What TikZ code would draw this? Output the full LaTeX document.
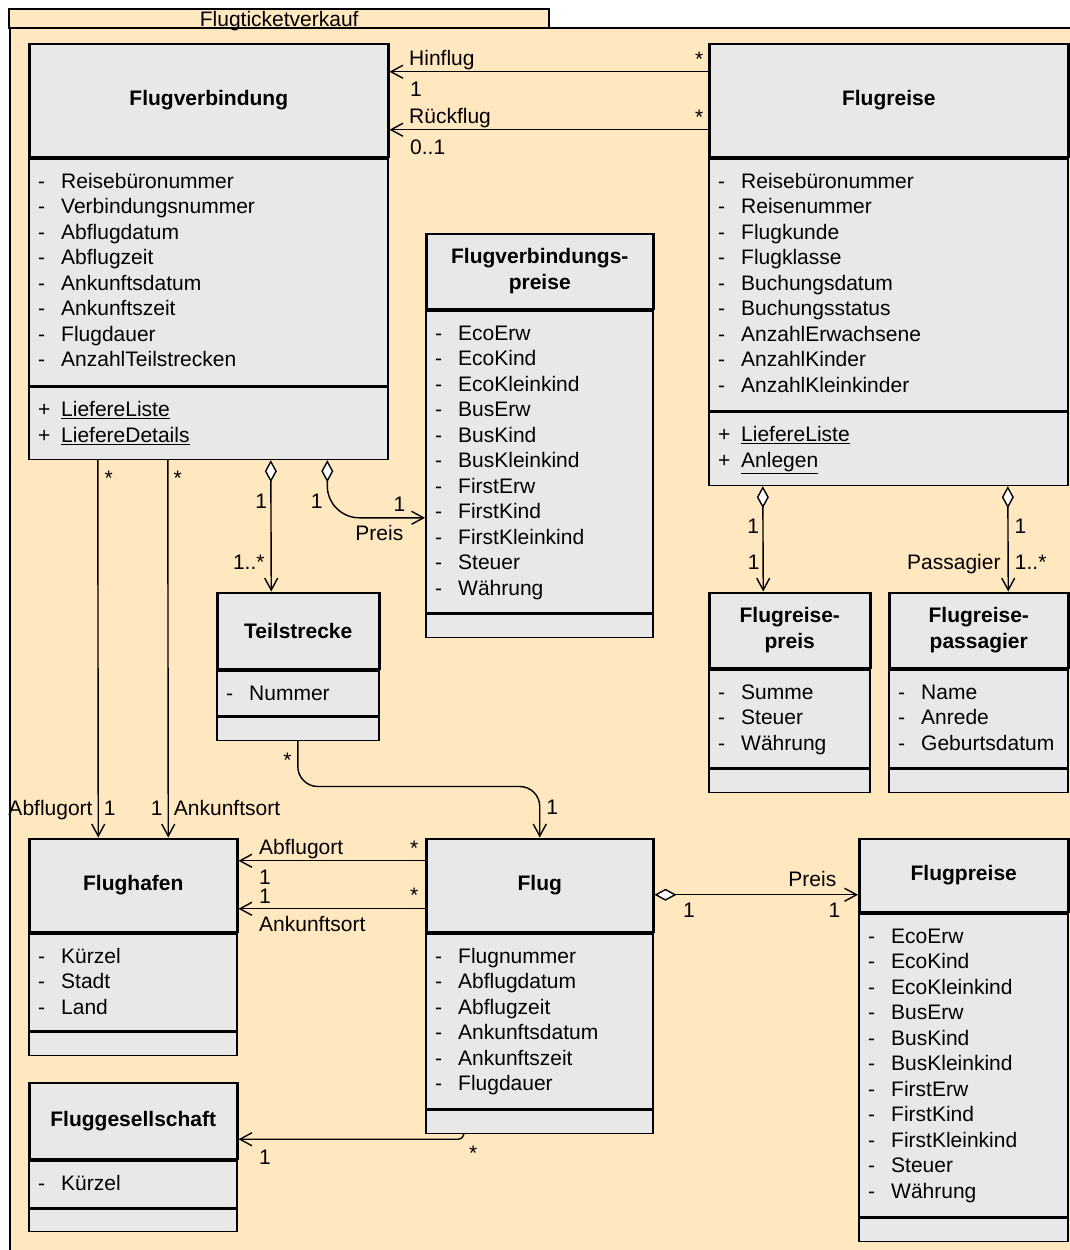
\documentclass[tikz,border=0pt]{standalone}
\usepackage{fontspec}
\setmainfont{Liberation Sans}
\usetikzlibrary{arrows.meta}
\definecolor{pkgfill}{HTML}{FFE7BF}
\definecolor{umlgray}{HTML}{E8E8E8}
\newcommand{\umlfont}{\fontsize{21pt}{25.5pt}\selectfont}
\newcommand{\att}[1]{\makebox[23pt][l]{-}#1\rule[-6pt]{0pt}{25.5pt}}
\newcommand{\opr}[1]{\makebox[23pt][l]{+}\underline{#1}\rule[-6pt]{0pt}{25.5pt}}
\begin{document}
\begin{tikzpicture}[x=1pt,y=-1pt]
        \tikzstyle{pkg}=[draw=black,line width=2.4pt,fill=pkgfill,anchor=north west,inner sep=0pt]
        \tikzstyle{head}=[draw=black,line width=2.5pt,fill=umlgray,font=\umlfont\bfseries,align=center,anchor=south west,inner sep=0pt]
        \tikzstyle{comp}=[draw=black,line width=1.6pt,fill=umlgray,anchor=north west,inner sep=0pt]
        \tikzstyle{txt}=[font=\umlfont,align=left,anchor=north west,inner sep=0pt]
        \tikzstyle{mult}=[font=\umlfont,inner sep=0pt]
        \tikzstyle{assoc}=[draw=black,line width=1.4pt,-{Straight Barb[length=12pt,width=13pt]}]
        \tikzstyle{aggr}=[assoc,{Diamond[length=22pt,width=12pt,fill=white]}-{Straight Barb[length=12pt,width=13pt]}]

        \useasboundingbox (0,0) rectangle (1070,1250);
        \clip (0,0) rectangle (1070,1250);

        % package
        \node[pkg,minimum width=1081pt,minimum height=1243pt] (pkg) at (9,27) {};
        \node[pkg,minimum width=540pt,minimum height=19pt,font=\umlfont,text height=17pt,text depth=2pt] (pkgTab) at (8,8) {Flugticketverkauf};

        % Flugverbindung
        \node[comp,minimum width=359pt,minimum height=227pt] (fvAttr) at (28,158) {};
        \node[comp,minimum width=359pt,minimum height=72pt] (fvOps) at (fvAttr.south west) {};
        \node[head,minimum width=359pt,minimum height=113pt] (fv) at (fvAttr.north west) {Flugverbindung};
        \node[txt] (fvAttrList) at ([xshift=10pt,yshift=-10.5pt]fvAttr.north west) {\att{Reisebüronummer}\\\att{Verbindungsnummer}\\\att{Abflugdatum}\\\att{Abflugzeit}\\\att{Ankunftsdatum}\\\att{Ankunftszeit}\\\att{Flugdauer}\\\att{AnzahlTeilstrecken}};
        \node[txt] (fvOpsList) at ([xshift=10pt,yshift=-10.5pt]fvOps.north west) {\opr{LiefereListe}\\\opr{LiefereDetails}};

        % Flugreise
        \node[comp,minimum width=359pt,minimum height=252pt] (frAttr) at (708,158) {};
        \node[comp,minimum width=359pt,minimum height=73pt] (frOps) at (frAttr.south west) {};
        \node[head,minimum width=359pt,minimum height=113pt] (fr) at (frAttr.north west) {Flugreise};
        \node[txt] (frAttrList) at ([xshift=10pt,yshift=-10.5pt]frAttr.north west) {\att{Reisebüronummer}\\\att{Reisenummer}\\\att{Flugkunde}\\\att{Flugklasse}\\\att{Buchungsdatum}\\\att{Buchungsstatus}\\\att{AnzahlErwachsene}\\\att{AnzahlKinder}\\\att{AnzahlKleinkinder}};
        \node[txt] (frOpsList) at ([xshift=10pt,yshift=-10.5pt]frOps.north west) {\opr{LiefereListe}\\\opr{Anlegen}};

        % Flugverbindungspreise
        \node[comp,minimum width=227pt,minimum height=302pt] (fvpAttr) at (425,310) {};
        \node[comp,minimum width=227pt,minimum height=23pt] (fvpOps) at (fvpAttr.south west) {};
        \node[head,minimum width=227pt,minimum height=75pt] (fvp) at (fvpAttr.north west) {Flugverbindungs-\\preise};
        \node[txt] (fvpAttrList) at ([xshift=10pt,yshift=-10.5pt]fvpAttr.north west) {\att{EcoErw}\\\att{EcoKind}\\\att{EcoKleinkind}\\\att{BusErw}\\\att{BusKind}\\\att{BusKleinkind}\\\att{FirstErw}\\\att{FirstKind}\\\att{FirstKleinkind}\\\att{Steuer}\\\att{Währung}};

        % Teilstrecke
        \node[comp,minimum width=162pt,minimum height=45pt] (tsAttr) at (216,670) {};
        \node[comp,minimum width=162pt,minimum height=23pt] (tsOps) at (tsAttr.south west) {};
        \node[head,minimum width=162pt,minimum height=76pt] (ts) at (tsAttr.north west) {Teilstrecke};
        \node[txt] (tsAttrList) at ([xshift=10pt,yshift=-10.5pt]tsAttr.north west) {\att{Nummer}};

        % Flugreisepreis
        \node[comp,minimum width=161pt,minimum height=98pt] (frpAttr) at (708,669) {};
        \node[comp,minimum width=161pt,minimum height=23pt] (frpOps) at (frpAttr.south west) {};
        \node[head,minimum width=161pt,minimum height=75pt] (frp) at (frpAttr.north west) {Flugreise-\\preis};
        \node[txt] (frpAttrList) at ([xshift=10pt,yshift=-10.5pt]frpAttr.north west) {\att{Summe}\\\att{Steuer}\\\att{Währung}};

        % Flugreisepassagier
        \node[comp,minimum width=179pt,minimum height=98pt] (frpaAttr) at (888,669) {};
        \node[comp,minimum width=179pt,minimum height=23pt] (frpaOps) at (frpaAttr.south west) {};
        \node[head,minimum width=179pt,minimum height=75pt] (frpa) at (frpaAttr.north west) {Flugreise-\\passagier};
        \node[txt] (frpaAttrList) at ([xshift=10pt,yshift=-10.5pt]frpaAttr.north west) {\att{Name}\\\att{Anrede}\\\att{Geburtsdatum}};

        % Flughafen
        \node[comp,minimum width=208pt,minimum height=97pt] (fhAttr) at (28,933) {};
        \node[comp,minimum width=208pt,minimum height=23pt] (fhOps) at (fhAttr.south west) {};
        \node[head,minimum width=208pt,minimum height=93pt] (fh) at (fhAttr.north west) {Flughafen};
        \node[txt] (fhAttrList) at ([xshift=10pt,yshift=-10.5pt]fhAttr.north west) {\att{Kürzel}\\\att{Stadt}\\\att{Land}};

        % Flug
        \node[comp,minimum width=227pt,minimum height=175pt] (flAttr) at (425,933) {};
        \node[comp,minimum width=227pt,minimum height=23pt] (flOps) at (flAttr.south west) {};
        \node[head,minimum width=227pt,minimum height=93pt] (fl) at (flAttr.north west) {Flug};
        \node[txt] (flAttrList) at ([xshift=10pt,yshift=-10.5pt]flAttr.north west) {\att{Flugnummer}\\\att{Abflugdatum}\\\att{Abflugzeit}\\\att{Ankunftsdatum}\\\att{Ankunftszeit}\\\att{Flugdauer}};

        % Fluggesellschaft
        \node[comp,minimum width=208pt,minimum height=47pt] (fgAttr) at (28,1160) {};
        \node[comp,minimum width=208pt,minimum height=22pt] (fgOps) at (fgAttr.south west) {};
        \node[head,minimum width=208pt,minimum height=76pt] (fg) at (fgAttr.north west) {Fluggesellschaft};
        \node[txt] (fgAttrList) at ([xshift=10pt,yshift=-10.5pt]fgAttr.north west) {\att{Kürzel}};

        % Flugpreise
        \node[comp,minimum width=209pt,minimum height=303pt] (fpAttr) at (858,913) {};
        \node[comp,minimum width=209pt,minimum height=23pt] (fpOps) at (fpAttr.south west) {};
        \node[head,minimum width=209pt,minimum height=73pt] (fp) at (fpAttr.north west) {Flugpreise};
        \node[txt] (fpAttrList) at ([xshift=10pt,yshift=-10.5pt]fpAttr.north west) {\att{EcoErw}\\\att{EcoKind}\\\att{EcoKleinkind}\\\att{BusErw}\\\att{BusKind}\\\att{BusKleinkind}\\\att{FirstErw}\\\att{FirstKind}\\\att{FirstKleinkind}\\\att{Steuer}\\\att{Währung}};

        % Flugreise -> Flugverbindung
        \draw[assoc] ([yshift=28.5pt]fr.west) -- ([yshift=28.5pt]fv.east)
            node[mult,at end,anchor=base west,xshift=19pt,yshift=6pt] (hinRole) {Hinflug}
            node[mult,at end,anchor=base west,xshift=20pt,yshift=-25pt] (hinOne) {1}
            node[mult,at start,anchor=base east,xshift=-4pt,yshift=5pt] (hinMany) {*};
        \draw[assoc] ([yshift=-29.5pt]fr.west) -- ([yshift=-29.5pt]fv.east)
            node[mult,at end,anchor=base west,xshift=19pt,yshift=6.5pt] (rueckRole) {Rückflug}
            node[mult,at end,anchor=base west,xshift=20pt,yshift=-25pt] (rueckOne) {0..1}
            node[mult,at start,anchor=base east,xshift=-4pt,yshift=5pt] (rueckMany) {*};

        % Flugverbindung -> Flughafen
        \draw[assoc] ([xshift=-110.5pt]fvOps.south) -- ([xshift=-35pt]fh.north)
            node[mult,at start,anchor=base west,xshift=6pt,yshift=-25pt] (abMany) {*}
            node[mult,at end,anchor=base east,xshift=-5pt,yshift=22pt] (abRole) {Abflugort}
            node[mult,at end,anchor=base west,xshift=5pt,yshift=22pt] (abOne) {1};
        \draw[assoc] ([xshift=-40.5pt]fvOps.south) -- ([xshift=35pt]fh.north)
            node[mult,at start,anchor=base west,xshift=5pt,yshift=-25pt] (anMany) {*}
            node[mult,at end,anchor=base east,xshift=-5pt,yshift=22pt] (anOne) {1}
            node[mult,at end,anchor=base west,xshift=5pt,yshift=22pt] (anRole) {Ankunftsort};

        % Flugverbindung <>-> Teilstrecke, Flugverbindungspreise
        \draw[aggr] ([xshift=62.5pt]fvOps.south) -- ([xshift=-27pt]ts.north)
            node[mult,at start,anchor=base east,xshift=-3pt,yshift=-48pt] (tsOne) {1}
            node[mult,at end,anchor=base east,xshift=-6pt,yshift=22pt] (tsMany) {1..*};
        \draw[aggr,rounded corners=32pt] ([xshift=119pt]fvOps.south) |- ([yshift=-56pt]fvpAttr.west)
            node[mult,at start,anchor=base east,xshift=-4pt,yshift=-48pt] (fvpOne) {1}
            node[mult,at end,anchor=base east,xshift=-19pt,yshift=6.5pt] (fvpOneB) {1}
            node[mult,at end,anchor=base east,xshift=-21pt,yshift=-22.5pt] (fvpRole) {Preis};

        % Teilstrecke -> Flug
        \draw[assoc,rounded corners=20pt] (tsOps.south) |- ([yshift=51pt]fl.north) -- (fl.north)
            node[mult,at end,anchor=base west,xshift=6pt,yshift=23pt] (flOne) {1};
        \node[mult,anchor=base east] (tsFlMany) at ([xshift=-6pt,yshift=-26pt]tsOps.south) {*};

        % Flug -> Flughafen
        \draw[assoc] ([yshift=24.5pt]fl.west) -- ([yshift=24.5pt]fh.east)
            node[mult,at end,anchor=base west,xshift=20pt,yshift=6pt] (flAbRole) {Abflugort}
            node[mult,at end,anchor=base west,xshift=20pt,yshift=-24pt] (flAbOne) {1}
            node[mult,at start,anchor=base east,xshift=-6pt,yshift=5.5pt] (flAbMany) {*};
        \draw[assoc] ([yshift=-23.5pt]fl.west) -- ([yshift=-23.5pt]fh.east)
            node[mult,at end,anchor=base west,xshift=20pt,yshift=5pt] (flAnOne) {1}
            node[mult,at end,anchor=base west,xshift=20pt,yshift=-23pt] (flAnRole) {Ankunftsort}
            node[mult,at start,anchor=base east,xshift=-6pt,yshift=6pt] (flAnMany) {*};

        % Flug <>-> Flugpreise
        \draw[aggr] ([yshift=-9.5pt]fl.east) -- ([yshift=-19.5pt]fp.west)
            node[mult,at start,anchor=base west,xshift=28pt,yshift=-23pt] (fpOneA) {1}
            node[mult,at end,anchor=base east,xshift=-17pt,yshift=-23pt] (fpOneB) {1}
            node[mult,at end,anchor=base east,xshift=-21pt,yshift=8pt] (fpRole) {Preis};

        % Flug -> Fluggesellschaft
        \draw[assoc,rounded corners=6pt] ([xshift=-75.5pt]flOps.south) |- ([yshift=-18.5pt]fg.east)
            node[mult,at end,anchor=base west,xshift=20pt,yshift=-25pt] (fgOne) {1};
        \node[mult,anchor=base west] (fgMany) at ([xshift=-70.5pt,yshift=-26pt]flOps.south) {*};

        % Flugreise <>-> Flugreisepreis, Flugreisepassagier
        \draw[aggr] ([xshift=-125.5pt]frOps.south) -- ([xshift=-26.5pt]frp.north)
            node[mult,at start,anchor=base east,xshift=-3pt,yshift=-47pt] (frpOneA) {1}
            node[mult,at end,anchor=base east,xshift=-3pt,yshift=22pt] (frpOneB) {1};
        \draw[aggr] ([xshift=119.5pt]frOps.south) -- ([xshift=29.5pt]frpa.north)
            node[mult,at start,anchor=base west,xshift=6pt,yshift=-47pt] (frpaOne) {1}
            node[mult,at end,anchor=base west,xshift=6pt,yshift=22pt] (frpaMany) {1..*}
            node[mult,at end,anchor=base east,xshift=-7pt,yshift=22pt] (frpaRole) {Passagier};
\end{tikzpicture}
\end{document}
